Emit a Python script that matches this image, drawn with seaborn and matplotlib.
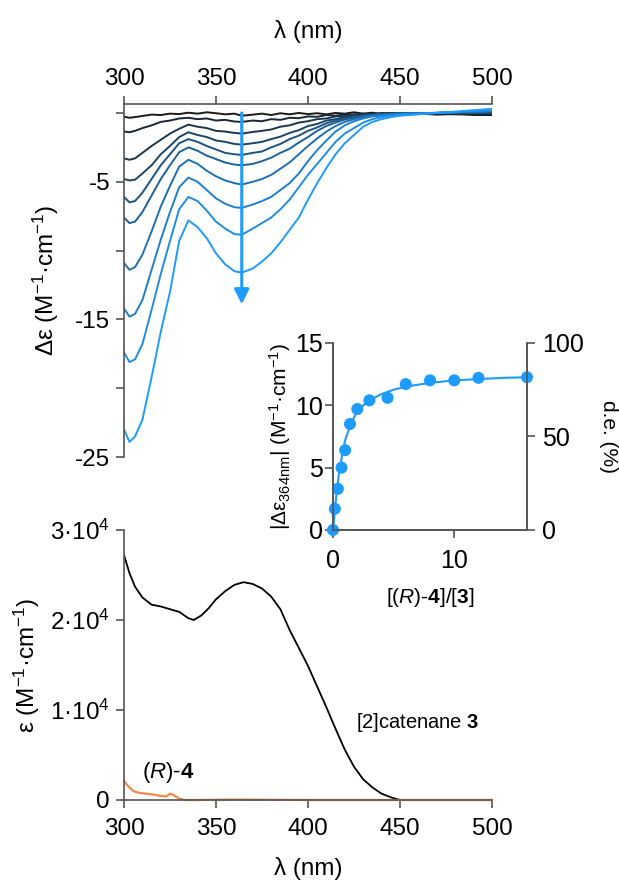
import numpy as np
import pandas as pd
import matplotlib
matplotlib.use("Agg")
import matplotlib.pyplot as plt
import seaborn as sns

sns.set_theme(style="ticks")
plt.rcParams["font.family"] = ["Liberation Sans", "DejaVu Sans"]
plt.rcParams["mathtext.fontset"] = "custom"
plt.rcParams["mathtext.rm"] = "Liberation Sans"
plt.rcParams["mathtext.it"] = "Liberation Sans:italic"
plt.rcParams["mathtext.bf"] = "Liberation Sans:bold"
plt.rcParams["text.color"] = "black"
plt.rcParams["axes.labelcolor"] = "black"

# CD titration spectra (delta epsilon, M-1 cm-1)
CD_WL = [300, 303, 306, 310, 315, 320, 325, 330, 335, 340, 345, 350, 355, 360, 364,
         370, 375, 380, 385, 390, 395, 400, 405, 410, 415, 420, 425, 430, 435, 440,
         445, 450, 460, 470, 480, 490, 500]
CD_1 = [-0.27, -0.35, -0.3, -0.22, -0.12, -0.15, -0.05, -0.08, 0.02, -0.05, 0.05, -0.02, -0.1,
        -0.05, -0.2, -0.12, -0.05, -0.15, -0.02, -0.1, 0.0, -0.08, -0.02, -0.1, 0.0, -0.05,
        0.05, -0.05, 0.02, -0.08, 0.0, -0.1, -0.05, -0.12, -0.08, -0.15, -0.15]
CD_2 = [-1.35, -1.4, -1.3, -1.1, -0.9, -0.65, -0.55, -0.4, -0.35, -0.45, -0.4, -0.55, -0.5,
        -0.62, -0.65, -0.55, -0.6, -0.45, -0.5, -0.35, -0.38, -0.25, -0.28, -0.15, -0.2, -0.1,
        -0.12, -0.05, -0.1, 0.0, -0.05, 0.0, -0.05, -0.02, -0.1, -0.05, -0.1]
CD_3 = [-3.3, -3.4, -3.3, -2.9, -2.4, -1.95, -1.5, -1.15, -0.85, -1.0, -1.1, -1.3, -1.35,
        -1.45, -1.5, -1.38, -1.3, -1.2, -1.0, -0.9, -0.7, -0.6, -0.45, -0.4, -0.25, -0.22,
        -0.12, -0.12, -0.05, -0.08, 0.0, -0.05, 0.0, -0.05, 0.0, -0.05, -0.05]
CD_4 = [-4.8, -4.9, -4.85, -4.4, -3.8, -3.0, -2.4, -1.75, -1.4, -1.6, -1.75, -2.0, -2.1,
        -2.25, -2.3, -2.2, -2.1, -1.9, -1.72, -1.45, -1.25, -0.95, -0.8, -0.55, -0.45, -0.3,
        -0.25, -0.15, -0.12, -0.05, -0.08, 0.0, -0.05, 0.02, 0.0, 0.0, 0.05]
CD_5 = [-6.1, -6.5, -6.4, -5.8, -4.8, -3.8, -3.0, -2.2, -1.9, -2.1, -2.4, -2.65, -2.9,
        -3.0, -3.05, -2.9, -2.8, -2.5, -2.25, -1.9, -1.65, -1.3, -1.05, -0.75, -0.55, -0.4,
        -0.28, -0.2, -0.12, -0.1, -0.05, -0.05, 0.0, 0.0, 0.05, 0.0, 0.05]
CD_6 = [-7.6, -8.0, -7.9, -7.2, -6.0, -4.8, -3.8, -2.85, -2.5, -2.75, -3.1, -3.35, -3.6,
        -3.75, -3.8, -3.7, -3.5, -3.25, -2.9, -2.6, -2.15, -1.75, -1.3, -0.95, -0.7, -0.48,
        -0.35, -0.25, -0.15, -0.1, -0.08, -0.05, 0.0, 0.0, 0.05, 0.05, 0.1]
CD_7 = [-10.9, -11.4, -11.2, -10.3, -8.6, -6.8, -5.3, -3.9, -3.4, -3.7, -4.2, -4.6, -4.9,
        -5.1, -5.2, -5.0, -4.8, -4.5, -4.05, -3.6, -3.0, -2.4, -1.85, -1.35, -0.95, -0.65,
        -0.45, -0.3, -0.2, -0.15, -0.1, -0.05, 0.0, 0.0, 0.05, 0.1, 0.1]
CD_8 = [-14.2, -14.8, -14.6, -13.6, -11.4, -9.2, -7.2, -5.4, -4.7, -5.0, -5.6, -6.2, -6.6,
        -6.85, -6.9, -6.65, -6.4, -6.1, -5.6, -5.1, -4.4, -3.5, -2.7, -2.0, -1.35, -0.9,
        -0.6, -0.4, -0.25, -0.2, -0.12, -0.08, -0.05, 0.0, 0.05, 0.1, 0.15]
CD_9 = [-17.4, -18.1, -17.9, -16.8, -14.3, -11.7, -9.3, -7.0, -6.1, -6.4, -7.1, -7.9, -8.4,
        -8.8, -8.85, -8.4, -8.0, -7.6, -7.0, -6.3, -5.4, -4.5, -3.7, -2.9, -2.1, -1.5,
        -1.1, -0.7, -0.45, -0.3, -0.2, -0.12, -0.05, 0.0, 0.05, 0.15, 0.2]
CD_10 = [-23.0, -23.9, -23.5, -22.3, -19.2, -15.9, -13.0, -9.3, -7.8, -8.3, -9.1, -10.2, -11.0,
         -11.5, -11.6, -11.3, -10.8, -10.2, -9.4, -8.5, -7.6, -6.3, -5.1, -4.0, -3.0, -2.2,
         -1.6, -1.0, -0.65, -0.45, -0.3, -0.2, -0.1, 0.0, 0.1, 0.2, 0.3]
CD_CURVES = [CD_1, CD_2, CD_3, CD_4, CD_5, CD_6, CD_7, CD_8, CD_9, CD_10]

# UV-vis spectra (epsilon, M-1 cm-1)
UV_WL = [300, 303, 306, 310, 315, 320, 325, 330, 335, 338, 342, 346, 350, 355, 360, 365,
         370, 375, 380, 385, 390, 395, 400, 405, 410, 415, 420, 425, 430, 435, 440, 445,
         450, 460, 470, 480, 490, 500]
UV_CAT = [27200, 25200, 23700, 22500, 21700, 21500, 21200, 20900, 20200, 20000, 20500, 21300,
          22300, 23200, 23900, 24200, 24000, 23500, 22600, 21200, 18900, 16900, 14900, 12600,
          10300, 7900, 5600, 3700, 2300, 1400, 700, 300, 0, 0, 0, 0, 0, 0]
R4_WL = [300, 302, 305, 308, 312, 316, 320, 323, 325, 327, 330, 333, 340, 360, 400, 450, 500]
R4_EPS = [2100, 1600, 1000, 800, 700, 600, 450, 400, 700, 550, 150, 0, 0, 50, 0, 0, 0]

# titration isotherm at 364 nm
RATIO = [0, 0.15, 0.4, 0.7, 1.0, 1.4, 2.0, 3.0, 4.5, 6.0, 8.0, 10.0, 12.0, 16.0]
DEPS = [0, 1.7, 3.3, 5.0, 6.4, 8.5, 9.7, 10.4, 10.6, 11.7, 12.0, 12.0, 12.2, 12.25]
FIT_X = [0, 0.25, 0.5, 0.75, 1, 1.5, 2, 2.5, 3, 4, 5, 6, 7, 8, 10, 12, 14, 16]
FIT_Y = [0, 2.6, 4.6, 6.0, 7.2, 8.6, 9.5, 10.0, 10.4, 10.9, 11.25, 11.5, 11.65, 11.8,
         12.0, 12.1, 12.2, 12.25]

BLUE = "#1e9bff"
GREY = "#555555"
FS = 17.5

fig = plt.figure(figsize=(6.19, 8.83), dpi=100)


def style_axis(ax, size=FS, pad=4):
    for s in ax.spines.values():
        s.set_color(GREY)
        s.set_linewidth(1.2)
    ax.tick_params(colors=GREY, labelcolor="black", labelsize=size, width=1.2, length=6,
                   direction="out", pad=pad)


# ---- CD panel ----
ax = fig.add_axes([0.2003, 0.4824, 0.5945, 0.3998])
rows = []
for i, c in enumerate(CD_CURVES):
    for w, v in zip(CD_WL, c):
        rows.append({"wl": w, "de": v, "curve": i})
cd = pd.DataFrame(rows)
pal = sns.blend_palette(["#1a1a1a", BLUE], len(CD_CURVES))
sns.lineplot(data=cd, x="wl", y="de", hue="curve", palette=pal, legend=False,
             estimator=None, sort=False, lw=1.4, ax=ax)
ax.set_xlim(300, 500)
ax.set_ylim(-25, 0.65)
ax.xaxis.tick_top()
ax.xaxis.set_label_position("top")
ax.set_xticks([300, 350, 400, 450, 500])
ax.set_yticks([0, -5, -10, -15, -20, -25])
ax.set_yticklabels(["", "-5", "", "-15", "", "-25"])
ax.spines["right"].set_visible(False)
ax.spines["bottom"].set_visible(False)
style_axis(ax)
ax.set_xlabel("λ (nm)", fontsize=FS, labelpad=22)
ax.set_ylabel("Δε (M$^{-1}$·cm$^{-1}$)", fontsize=FS, labelpad=10)
ax.annotate("", xy=(364, -13.9), xytext=(364, 0),
            arrowprops=dict(arrowstyle="-|>", color=BLUE, lw=2.2, mutation_scale=22,
                            shrinkA=0, shrinkB=0))

# ---- UV panel ----
ax3 = fig.add_axes([0.2003, 0.094, 0.5945, 0.3058])
uv = pd.DataFrame({"wl": UV_WL, "eps": UV_CAT})
r4 = pd.DataFrame({"wl": R4_WL, "eps": R4_EPS})
sns.lineplot(data=uv, x="wl", y="eps", color="black", lw=1.3, ax=ax3)
sns.lineplot(data=r4, x="wl", y="eps", color="#f08a4b", lw=1.6, ax=ax3, clip_on=False)
ax3.set_xlim(300, 500)
ax3.set_ylim(0, 30000)
ax3.set_xticks([300, 350, 400, 450, 500])
ax3.set_yticks([0, 10000, 20000, 30000])
ax3.set_yticklabels(["0", "1·10$^4$", "2·10$^4$", "3·10$^4$"])
ax3.spines["right"].set_visible(False)
ax3.spines["top"].set_visible(False)
style_axis(ax3)
ax3.tick_params(axis="x", pad=7)
ax3.set_xlabel("λ (nm)", fontsize=FS, labelpad=12)
ax3.set_ylabel("ε (M$^{-1}$·cm$^{-1}$)", fontsize=FS, labelpad=6)
ax3.text(426, 8600, "[2]catenane $\\bf{3}$", fontsize=14.5, va="center", ha="left")
ax3.text(310, 3100, "($\\it{R}$)-$\\bf{4}$", fontsize=16, va="center", ha="left")

# ---- inset titration ----
ins = fig.add_axes([0.538, 0.3998, 0.3134, 0.2118])
fit = pd.DataFrame({"x": FIT_X, "y": FIT_Y})
pts = pd.DataFrame({"x": RATIO, "y": DEPS})
sns.lineplot(data=fit, x="x", y="y", color=BLUE, lw=1.5, ax=ins)
sns.scatterplot(data=pts, x="x", y="y", color=BLUE, s=75, edgecolor="none", ax=ins,
                clip_on=False, zorder=5)
ins.set_xlim(0, 16)
ins.set_ylim(0, 15)
ins.set_xticks([0, 10])
ins.set_yticks([0, 5, 10, 15])
ins.spines["top"].set_visible(False)
style_axis(ins, size=18, pad=1)
ins.tick_params(axis="x", pad=8)
ins.set_xlabel("[($\\it{R}$)-$\\bf{4}$]/[$\\bf{3}$]", fontsize=15, labelpad=9)
ins.set_ylabel("|Δε$_{364\\mathrm{nm}}$| (M$^{-1}$·cm$^{-1}$)", fontsize=15, labelpad=2)
ins2 = ins.twinx()
ins2.set_ylim(0, 100)
ins2.set_yticks([0, 50, 100])
ins2.spines["top"].set_visible(False)
style_axis(ins2, size=18, pad=5)
ins2.set_ylabel("d.e. (%)", fontsize=15, rotation=270, labelpad=24)

fig.savefig("out.png", dpi=100)
